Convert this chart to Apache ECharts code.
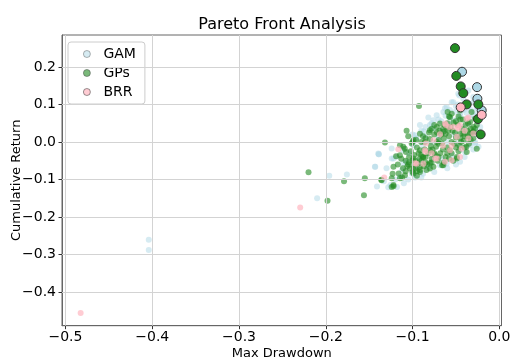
<!DOCTYPE html>
<html>
<head>
<meta charset="utf-8">
<script src="https://cdn.jsdelivr.net/npm/echarts@6/dist/echarts.min.js"></script>
<style>html,body{margin:0;padding:0;background:#fff;}#c{width:523px;height:360px;}</style>
</head>
<body>
<div id="c"></div>
<script>
var xTicks = [-0.5, -0.4, -0.3, -0.2, -0.1, 0.0];
var yTicks = [-0.4, -0.3, -0.2, -0.1, 0.0, 0.1, 0.2];

var gamBg = [[-0.404,-0.261],[-0.404,-0.288],[-0.21,-0.15],[-0.196,-0.090],[-0.1757,-0.087],[-0.143,-0.066],[-0.139,-0.033],[-0.141,-0.119],[-0.128,-0.121],[-0.1388,-0.0327],[-0.1241,-0.0177],[-0.122,-0.044],[-0.118,-0.039],[-0.1145,-0.093],[-0.1254,-0.115],[-0.118,-0.12],[-0.1107,-0.057],[-0.124,-0.044],[-0.0953,-0.0665],[-0.101,-0.084],[-0.0915,-0.0487],[-0.082,-0.071],[-0.0799,-0.062],[-0.0684,-0.062],[-0.0607,-0.058],[-0.0453,-0.053],[-0.0395,-0.027],[-0.0338,-0.009],[-0.049,-0.004],[-0.076,-0.045],[-0.107,-0.053],[-0.111,-0.022],[-0.099,-0.009],[-0.0972,0.018],[-0.0915,0.045],[-0.080,0.045],[-0.076,0.036],[-0.0953,0.0098],[-0.0857,0.014],[-0.0818,0.065],[-0.076,0.058],[-0.0722,0.071],[-0.0645,0.080],[-0.0626,0.0896],[-0.0607,0.093],[-0.053,0.106],[-0.0569,0.066],[-0.0549,0.106],[-0.0473,0.1287],[-0.0461,0.124],[-0.0415,0.115],[-0.0357,0.137],[-0.030,0.12],[-0.026,0.093],[-0.030,0.071],[-0.0511,0.080],[-0.0453,0.0755],[-0.0376,0.0622],[-0.0357,0.049],[-0.0472,0.062],[-0.024,-0.013],[-0.028,-0.004],[-0.027,0.03],[-0.031,0.02],[-0.022,0.04],[-0.025,0.055],[-0.033,0.085],[-0.04,0.1],[-0.038,0.078],[-0.044,0.09],[-0.05,0.095],[-0.058,0.05],[-0.066,0.03],[-0.07,0.012],[-0.078,0.0],[-0.088,-0.01],[-0.104,-0.03],[-0.112,-0.075],[-0.105,-0.1],[-0.097,-0.095],[-0.088,-0.085],[-0.066,-0.045],[-0.055,-0.035],[-0.045,-0.02],[-0.035,0.005],[-0.06,0.0],[-0.052,0.02],[-0.042,0.04],[-0.067,0.055],[-0.087,0.028],[-0.13,-0.07],[-0.133,-0.105],[-0.12,-0.1],[-0.057,0.085],[-0.048,0.1],[-0.041,0.085],[-0.036,0.095],[-0.03,0.105],[-0.028,0.08],[-0.034,0.065],[-0.045,0.07],[-0.052,0.058],[-0.062,0.07],[-0.07,0.06],[-0.078,0.05],[-0.085,0.04],[-0.09,0.03],[-0.1,0.02],[-0.028,0.0],[-0.023,0.015],[-0.03,-0.02],[-0.04,-0.04],[-0.05,-0.06],[-0.06,-0.07],[-0.075,-0.08],[-0.09,-0.095],[-0.11,-0.11],[-0.1395,-0.031],[-0.1434,-0.066]];

var gpsBg = [[-0.2199,-0.081],[-0.179,-0.105],[-0.155,-0.097],[-0.156,-0.142],[-0.198,-0.157],[-0.136,-0.101],[-0.122,-0.118],[-0.0926,0.0957],[-0.105,0.015],[-0.1318,-0.0016],[-0.1145,-0.009],[-0.101,-0.004],[-0.0857,0.0],[-0.1146,-0.0355],[-0.122,-0.066],[-0.124,-0.097],[-0.122,-0.115],[-0.1357,-0.102],[-0.1088,-0.0886],[-0.116,-0.084],[-0.099,-0.044],[-0.0877,-0.04],[-0.08,-0.057],[-0.0915,-0.066],[-0.103,-0.071],[-0.074,-0.035],[-0.0549,0.075],[-0.0338,0.053],[-0.0645,0.027],[-0.0415,0.022],[-0.1069,0.03],[-0.119,-0.038],[-0.113,-0.045],[-0.111,-0.07],[-0.123,-0.085],[-0.098,-0.035],[-0.096,0.006],[-0.0915,-0.022],[-0.085,0.01],[-0.075,0.045],[-0.072,0.04],[-0.065,0.035],[-0.0596,0.08],[-0.058,0.068],[-0.045,0.06],[-0.036,0.05],[-0.033,0.005],[-0.038,-0.013],[-0.049,-0.04],[-0.057,-0.022],[-0.066,-0.062],[-0.076,-0.066],[-0.084,-0.075],[-0.0915,-0.075],[-0.099,-0.066],[-0.088,-0.04],[-0.080,-0.022],[-0.073,-0.013],[-0.066,-0.004],[-0.062,0.022],[-0.054,0.03],[-0.045,0.022],[-0.041,0.004],[-0.037,0.03],[-0.034,0.022],[-0.03,0.04],[-0.028,0.035],[-0.03,0.01],[-0.046,-0.01],[-0.052,-0.005],[-0.06,-0.015],[-0.068,-0.03],[-0.078,-0.045],[-0.085,-0.055],[-0.094,-0.058],[-0.104,-0.055],[-0.108,-0.078],[-0.1,-0.08],[-0.095,-0.09],[-0.09,-0.05],[-0.082,-0.03],[-0.077,-0.02],[-0.07,-0.005],[-0.064,0.01],[-0.058,0.015],[-0.05,0.012],[-0.043,0.035],[-0.039,0.045],[-0.048,0.045],[-0.056,0.04],[-0.063,0.045],[-0.069,0.03],[-0.075,0.02],[-0.08,0.008],[-0.09,0.0],[-0.095,-0.015],[-0.102,-0.025],[-0.108,-0.05],[-0.117,-0.06],[-0.112,-0.095],[-0.106,-0.065],[-0.083,-0.06],[-0.071,-0.05],[-0.062,-0.04],[-0.055,-0.03],[-0.047,-0.025],[-0.04,-0.015],[-0.035,-0.005],[-0.031,0.025],[-0.036,0.015],[-0.044,0.0],[-0.051,0.025],[-0.059,0.03],[-0.067,0.02],[-0.072,0.0],[-0.079,-0.01],[-0.086,-0.02],[-0.093,-0.03],[-0.097,-0.05],[-0.104,-0.04],[-0.087,-0.065],[-0.078,-0.055],[-0.07,-0.04],[-0.064,-0.055],[-0.058,-0.045],[-0.053,-0.05],[-0.042,0.06],[-0.05,0.055],[-0.026,0.045],[-0.028,0.062],[-0.032,0.08],[-0.047,0.068],[-0.06,0.05],[-0.081,0.025],[-0.088,0.015],[-0.1,0.0],[-0.109,-0.018],[-0.095,-0.078],[-0.026,-0.018],[-0.0376,-0.027],[-0.049,-0.044],[-0.0646,-0.062],[-0.08,-0.071],[-0.0915,-0.08],[-0.099,-0.084],[-0.08,0.031],[-0.0684,0.049],[-0.0569,0.066],[-0.0453,0.084],[-0.0915,0.022],[-0.099,0.0045],[-0.1107,-0.013],[-0.07,0.005],[-0.065,-0.02],[-0.06,-0.03],[-0.055,0.0],[-0.05,-0.015],[-0.045,0.01],[-0.04,0.015],[-0.075,-0.03],[-0.085,-0.04],[-0.09,-0.035],[-0.1,-0.05],[-0.105,-0.06],[-0.072,0.025],[-0.078,0.035],[-0.061,0.038],[-0.053,0.052],[-0.033,0.035],[-0.03,0.028],[-0.097,-0.07],[-0.092,-0.045],[-0.1076,-0.0266],[-0.1145,-0.097],[-0.124,-0.12]];

var brrBg = [[-0.4825,-0.456],[-0.2295,-0.175],[-0.1326,-0.095],[-0.0972,-0.057],[-0.085,-0.027],[-0.074,-0.044],[-0.0616,0.045],[-0.0578,0.040],[-0.0472,0.0355],[-0.0357,0.065],[-0.030,0.0223],[-0.049,0.0135],[-0.0549,-0.009],[-0.0568,-0.022],[-0.0453,-0.04],[-0.0549,-0.049],[-0.0722,-0.044],[-0.0845,-0.0045],[-0.0953,-0.058],[-0.1164,-0.0195],[-0.0684,0.0205],[-0.0857,-0.0222],[-0.0434,-0.018],[-0.0357,0.009],[-0.0626,-0.053],[-0.076,0.0045],[-0.0876,-0.058],[-0.053,0.040],[-0.0453,0.0445],[-0.0626,0.049],[-0.0473,0.04],[-0.0376,0.062],[-0.04,0.03],[-0.065,-0.01],[-0.078,-0.03]];

var gamFront = [[-0.043,0.187],[-0.0257,0.146],[-0.0253,0.115],[-0.0203,0.084]];
var gpsFront = [[-0.0511,0.25],[-0.0496,0.176],[-0.0445,0.148],[-0.0415,0.13],[-0.0376,0.10],[-0.0242,0.10],[-0.0246,0.061],[-0.0215,0.020]];
var brrFront = [[-0.0445,0.092],[-0.0203,0.072]];

var C_GAM = '#add8e6', C_GPS = '#228b22', C_BRR = '#ffb6c1';
var FONT = 'DejaVu Sans';
function fmt(v){ var a = Math.abs(v) < 1e-9 ? 0 : v; return (a < 0 ? '\u2212' : '') + Math.abs(a).toFixed(1); }

var chart = echarts.init(document.getElementById('c'), null, {renderer:'canvas'});
var gridLines = xTicks.map(function(v){return {xAxis:v};}).concat(yTicks.map(function(v){return {yAxis:v};}));

function bg(name, data, color, op){
  return {name:name, type:'scatter', data:data, symbolSize:6, z:3, silent:true,
    itemStyle:{color:color, opacity:op}};
}
function fr(name, data, color){
  return {name:name, type:'scatter', data:data, symbolSize:9, z:5, silent:true,
    itemStyle:{color:color, opacity:1, borderColor:'#333', borderWidth:1}};
}

chart.setOption({
  animation:false,
  backgroundColor:'#fff',
  title:{text:'Pareto Front Analysis', left:282, top:17, textAlign:'center', padding:0,
    textStyle:{fontFamily:FONT, fontSize:16, fontWeight:'normal', color:'#000'}},
  grid:{left:62, right:21.5, top:35, bottom:34.3, show:true, borderColor:'#666', borderWidth:1,
    backgroundColor:'transparent', outerBoundsMode:'none', containLabel:false},
  legend:{left:68, top:42, orient:'vertical', padding:[5,9,5,15], itemGap:5, itemWidth:23, itemHeight:7,
    backgroundColor:'rgba(255,255,255,0.8)', borderColor:'#ccc', borderWidth:1, borderRadius:3,
    textStyle:{fontFamily:FONT, fontSize:14, color:'#000', lineHeight:14},
    data:[
      {name:'GAM', icon:'circle', itemStyle:{color:C_GAM, borderColor:'#444', borderWidth:0.8}},
      {name:'GPs', icon:'circle', itemStyle:{color:C_GPS, borderColor:'#444', borderWidth:0.8}},
      {name:'BRR', icon:'circle', itemStyle:{color:C_BRR, borderColor:'#444', borderWidth:0.8}}
    ], selectedMode:false},
  xAxis:{type:'value', min:-0.504, max:0.0025, name:'Max Drawdown', nameLocation:'middle', nameGap:21, nameMoveOverlap:false,
    nameTextStyle:{fontFamily:FONT, fontSize:13, color:'#000'},
    axisLine:{show:true, onZero:false, lineStyle:{color:'#666'}},
    axisTick:{show:true, inside:false, length:3.5, customValues:xTicks, lineStyle:{color:'#333'}},
    axisLabel:{customValues:xTicks, formatter:fmt, margin:5, fontFamily:FONT, fontSize:14, color:'#000'},
    splitLine:{show:false}},
  yAxis:{type:'value', min:-0.49, max:0.285, name:'Cumulative Return', nameLocation:'middle', nameGap:39, nameMoveOverlap:false,
    nameTextStyle:{fontFamily:FONT, fontSize:13, color:'#000'},
    axisLine:{show:true, onZero:false, lineStyle:{color:'#666'}},
    axisTick:{show:true, inside:false, length:3.5, customValues:yTicks, lineStyle:{color:'#333'}},
    axisLabel:{customValues:yTicks, formatter:fmt, margin:6, fontFamily:FONT, fontSize:14, color:'#000'},
    splitLine:{show:false}},
  series:[
    {name:'grid', type:'scatter', data:[], z:1, silent:true,
      markLine:{silent:true, symbol:'none', label:{show:false}, animation:false,
        lineStyle:{color:'#d3d3d3', type:'solid', width:1}, emphasis:{disabled:true}, data:gridLines}},
    bg('GAM', gamBg, C_GAM, 0.5),
    bg('GPs', gpsBg, C_GPS, 0.6),
    bg('BRR', brrBg, C_BRR, 0.7),
    fr('GAM', gamFront, C_GAM),
    fr('GPs', gpsFront, C_GPS),
    fr('BRR', brrFront, C_BRR)
  ]
});
</script>
</body>
</html>
